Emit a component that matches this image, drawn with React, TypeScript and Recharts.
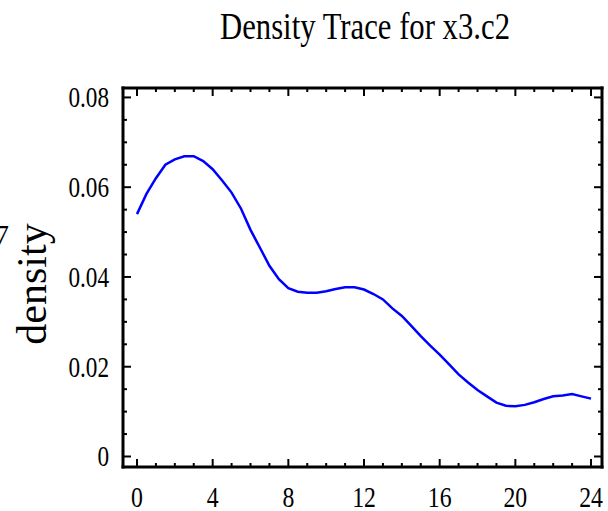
import React from 'react';
import { LineChart, Line, XAxis, YAxis } from 'recharts';

const xValues = [0, 0.5, 1, 1.5, 2, 2.5, 3, 3.5, 4, 4.5, 5, 5.5, 6, 6.5, 7, 7.5, 8, 8.5, 9, 9.5, 10, 10.5, 11, 11.5, 12, 12.5, 13, 13.5, 14, 14.5, 15, 15.5, 16, 16.5, 17, 17.5, 18, 18.5, 19, 19.5, 20, 20.5, 21, 21.5, 22, 22.5, 23, 23.5, 24];
const densityValues = [0.054, 0.0585, 0.062, 0.065, 0.0662, 0.0669, 0.0669, 0.0658, 0.064, 0.0615, 0.0588, 0.0552, 0.0505, 0.0465, 0.0425, 0.0395, 0.0375, 0.0367, 0.0365, 0.0365, 0.0368, 0.0373, 0.0377, 0.0377, 0.0372, 0.0362, 0.035, 0.033, 0.0313, 0.0291, 0.0268, 0.0247, 0.0227, 0.0205, 0.0183, 0.0165, 0.0148, 0.0134, 0.012, 0.0113, 0.0112, 0.0115, 0.0121, 0.0128, 0.0134, 0.0136, 0.0139, 0.0134, 0.0129];

const xMajorTicks = [0, 4, 8, 12, 16, 20, 24];
const xAllTicks = [0, 1, 2, 3, 4, 5, 6, 7, 8, 9, 10, 11, 12, 13, 14, 15, 16, 17, 18, 19, 20, 21, 22, 23, 24];
const yMajorTicks = [0, 0.02, 0.04, 0.06, 0.08];
const yAllTicks = [0, 0.005, 0.01, 0.015, 0.02, 0.025, 0.03, 0.035, 0.04, 0.045, 0.05, 0.055, 0.06, 0.065, 0.07, 0.075, 0.08];
const yTickLabels = ['0', '0.02', '0.04', '0.06', '0.08'];

const titleText = 'Density Trace for x3.c2';
const yAxisTitle = 'density';
const clippedText = '7';

const data = xValues.map((x, i) => ({ x, density: densityValues[i] }));

const FONT = '"Liberation Serif", "Times New Roman", serif';
const MAJOR = 8;
const MINOR = 4;

const isMajorX = (v: number) => xMajorTicks.includes(v);
const yMajorIndex = (v: number) => yMajorTicks.findIndex((m) => Math.abs(m - v) < 1e-9);

const BottomTick = (props: any) => {
  const { x, y, payload } = props;
  const v = payload.value;
  const major = isMajorX(v);
  return (
    <g>
      <line x1={x} x2={x} y1={y} y2={y - (major ? MAJOR : MINOR)} stroke="#000" strokeWidth={2} />
      {major && (
        <text
          transform={`translate(${x},${y + 40}) scale(0.82,1.05)`}
          textAnchor="middle"
          fontFamily={FONT}
          fontSize={29}
          fill="#000"
        >
          {String(v)}
        </text>
      )}
    </g>
  );
};

const TopTick = (props: any) => {
  const { x, y, payload } = props;
  const major = isMajorX(payload.value);
  return <line x1={x} x2={x} y1={y} y2={y + (major ? MAJOR : MINOR)} stroke="#000" strokeWidth={2} />;
};

const LeftTick = (props: any) => {
  const { x, y, payload } = props;
  const idx = yMajorIndex(payload.value);
  const major = idx >= 0;
  return (
    <g>
      <line x1={x} x2={x + (major ? MAJOR : MINOR)} y1={y} y2={y} stroke="#000" strokeWidth={2} />
      {major && (
        <text
          transform={`translate(${x - 14},${y + 10}) scale(0.8,1.05)`}
          textAnchor="end"
          fontFamily={FONT}
          fontSize={29}
          fill="#000"
        >
          {yTickLabels[idx]}
        </text>
      )}
    </g>
  );
};

const RightTick = (props: any) => {
  const { x, y, payload } = props;
  const major = yMajorIndex(payload.value) >= 0;
  return <line x1={x} x2={x - (major ? MAJOR : MINOR)} y1={y} y2={y} stroke="#000" strokeWidth={2} />;
};

const axisLineStyle = { stroke: '#000', strokeWidth: 3, strokeLinecap: 'square' as const };

export default function App() {
  return (
    <div style={{ position: 'absolute', left: 0, top: 0, width: 608, height: 511, background: '#fff' }}>
      <LineChart width={608} height={511} data={data} margin={{ top: 87, right: 5, bottom: 0, left: 0 }}>
        <XAxis
          xAxisId="b"
          dataKey="x"
          type="number"
          domain={[-0.74, 24.58]}
          allowDataOverflow
          ticks={xAllTicks}
          interval={0}
          height={44}
          tickSize={0}
          tickMargin={0}
          tickLine={false}
          axisLine={axisLineStyle}
          tick={BottomTick}
        />
        <XAxis
          xAxisId="t"
          orientation="top"
          dataKey="x"
          type="number"
          domain={[-0.74, 24.58]}
          allowDataOverflow
          ticks={xAllTicks}
          interval={0}
          height={1}
          tickSize={0}
          tickMargin={0}
          tickLine={false}
          axisLine={axisLineStyle}
          tick={TopTick}
        />
        <YAxis
          yAxisId="l"
          type="number"
          domain={[-0.00234, 0.0821]}
          allowDataOverflow
          ticks={yAllTicks}
          interval={0}
          width={123}
          tickSize={0}
          tickMargin={0}
          tickLine={false}
          axisLine={axisLineStyle}
          tick={LeftTick}
        />
        <YAxis
          yAxisId="r"
          orientation="right"
          type="number"
          domain={[-0.00234, 0.0821]}
          allowDataOverflow
          ticks={yAllTicks}
          interval={0}
          width={1}
          tickSize={0}
          tickMargin={0}
          tickLine={false}
          axisLine={axisLineStyle}
          tick={RightTick}
        />
        <Line
          xAxisId="t"
          yAxisId="r"
          type="linear"
          dataKey="density"
          stroke="none"
          strokeWidth={0}
          dot={false}
          activeDot={false}
          legendType="none"
          isAnimationActive={false}
        />
        <Line
          xAxisId="b"
          yAxisId="l"
          type="linear"
          dataKey="density"
          stroke="#0000ff"
          strokeWidth={2.5}
          dot={false}
          activeDot={false}
          isAnimationActive={false}
        />
      </LineChart>
      <svg
        width={608}
        height={511}
        style={{ position: 'absolute', left: 0, top: 0, pointerEvents: 'none' }}
      >
        <text x={220} y={39} fontFamily={FONT} fontSize={37} textLength={290} lengthAdjust="spacingAndGlyphs" fill="#000">
          {titleText}
        </text>
        <text
          transform="translate(46,284) rotate(-90)"
          textAnchor="middle"
          fontFamily={FONT}
          fontSize={42}
          fill="#000"
        >
          {yAxisTitle}
        </text>
        <text x={9} y={245} textAnchor="end" fontFamily={FONT} fontSize={29} fill="#000">
          {clippedText}
        </text>
      </svg>
    </div>
  );
}
